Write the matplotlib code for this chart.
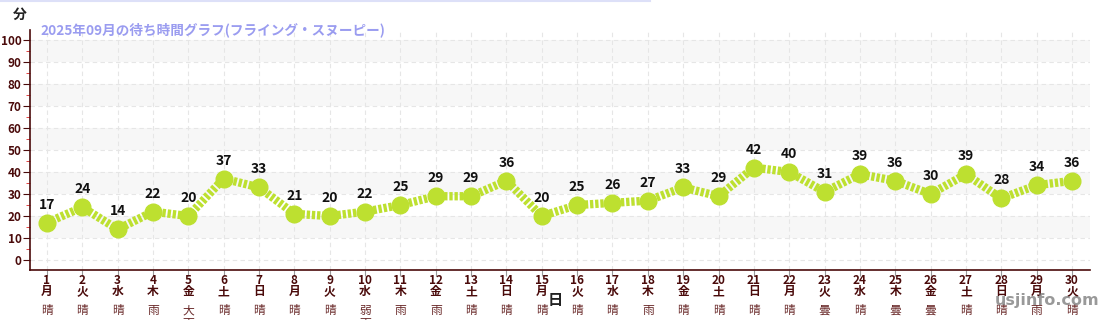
import matplotlib
matplotlib.use("Agg")
import matplotlib.pyplot as plt
from matplotlib.lines import Line2D

plt.rcParams["font.family"] = ["Noto Sans CJK JP", "DejaVu Sans"]

days = list(range(1, 31))
weekdays = ["月", "火", "水", "木", "金", "土", "日"] * 5
weekdays = weekdays[:30]
weather = ["晴", "晴", "晴", "雨", "大雨", "晴", "晴", "晴", "晴", "弱雨",
           "雨", "雨", "晴", "晴", "晴", "晴", "晴", "雨", "晴", "晴",
           "晴", "晴", "曇", "晴", "曇", "曇", "晴", "晴", "雨", "晴"]
wait = [17, 24, 14, 22, 20, 37, 33, 21, 20, 22, 25, 29, 29, 36, 20,
        25, 26, 27, 33, 29, 42, 40, 31, 39, 36, 30, 39, 28, 34, 36]

dark = "#4a0a0a"
green = "#bde030"

fig = plt.figure(figsize=(11, 3.2), dpi=100)
ax = fig.add_axes([30 / 1100, 50 / 320, 1060 / 1100, 240 / 320])

# alternating bands
for lo in range(10, 100, 20):
    ax.axhspan(lo, lo + 10, color="#f7f7f7", zorder=0, lw=0)

ax.set_xlim(0.52, 30.51)
ax.set_ylim(-4.5, 104.5)
ax.set_yticks(range(0, 101, 10))
ax.set_yticks(range(5, 101, 10), minor=True)
ax.grid(True, axis="both", which="major", color="#e6e6e6", ls=(0, (4, 3)), lw=0.8, zorder=1)

ax.plot(days, wait, color=green, lw=6, ls=(0, (0.4, 0.22)), zorder=3,
        dash_capstyle="butt")
ax.plot(days, wait, "o", color=green, ms=12, zorder=4)
for d, v in zip(days, wait):
    ax.annotate(str(v), (d, v), xytext=(0, 8), textcoords="offset points",
                ha="center", va="bottom", fontsize=10, fontweight="bold",
                color="#111111", zorder=5)

ax.set_xticks(days)
ax.set_xticklabels([f"{d}\n{w}" for d, w in zip(days, weekdays)],
                   fontsize=8.5, fontweight="bold", color=dark, linespacing=0.8)
ax.tick_params(axis="x", length=4, color="#999999", pad=-1)
ax.tick_params(axis="y", which="major", length=5, color=dark, labelcolor=dark,
               labelsize=8.5, pad=1)
ax.tick_params(axis="y", which="minor", length=3, color="#dd2222")
for lab in ax.get_yticklabels():
    lab.set_fontweight("bold")

for d, w in zip(days, weather):
    ax.annotate("\n".join(w), (d, 0), xycoords=("data", "axes fraction"),
                xytext=(0, -34), textcoords="offset pixels", ha="center",
                va="top", fontsize=8.5, color="#6a2a2a", linespacing=1.0,
                annotation_clip=False)

for side in ["top", "right"]:
    ax.spines[side].set_visible(False)
ax.spines["left"].set_color(dark)
ax.spines["bottom"].set_color(dark)
ax.spines["left"].set_linewidth(1.2)
ax.spines["bottom"].set_linewidth(1.2)

ax.text(10 / 1060, 1.0, "2025年09月の待ち時間グラフ(フライング・スヌーピー)",
        transform=ax.transAxes, ha="left", va="center", fontsize=9.8,
        fontweight="bold", color="#9a9cf0")
fig.text(20 / 1100, 1 - 15 / 320, "分", ha="center", va="center",
         fontsize=10, fontweight="bold", color="#222222")
fig.text(555 / 1100, 1 - 300 / 320, "日", ha="center", va="center",
         fontsize=11, fontweight="bold", color="#222222")
fig.text(1047 / 1100, 1 - 301 / 320, "usjinfo.com", ha="center", va="center",
         fontsize=11.5, fontweight="bold", color="#777777", alpha=0.75,
         family="DejaVu Sans")
fig.add_artist(Line2D([0, 650 / 1100], [0.998, 0.998], color="#dde0f8", lw=1.5))

fig.savefig("out.png", dpi=100)
